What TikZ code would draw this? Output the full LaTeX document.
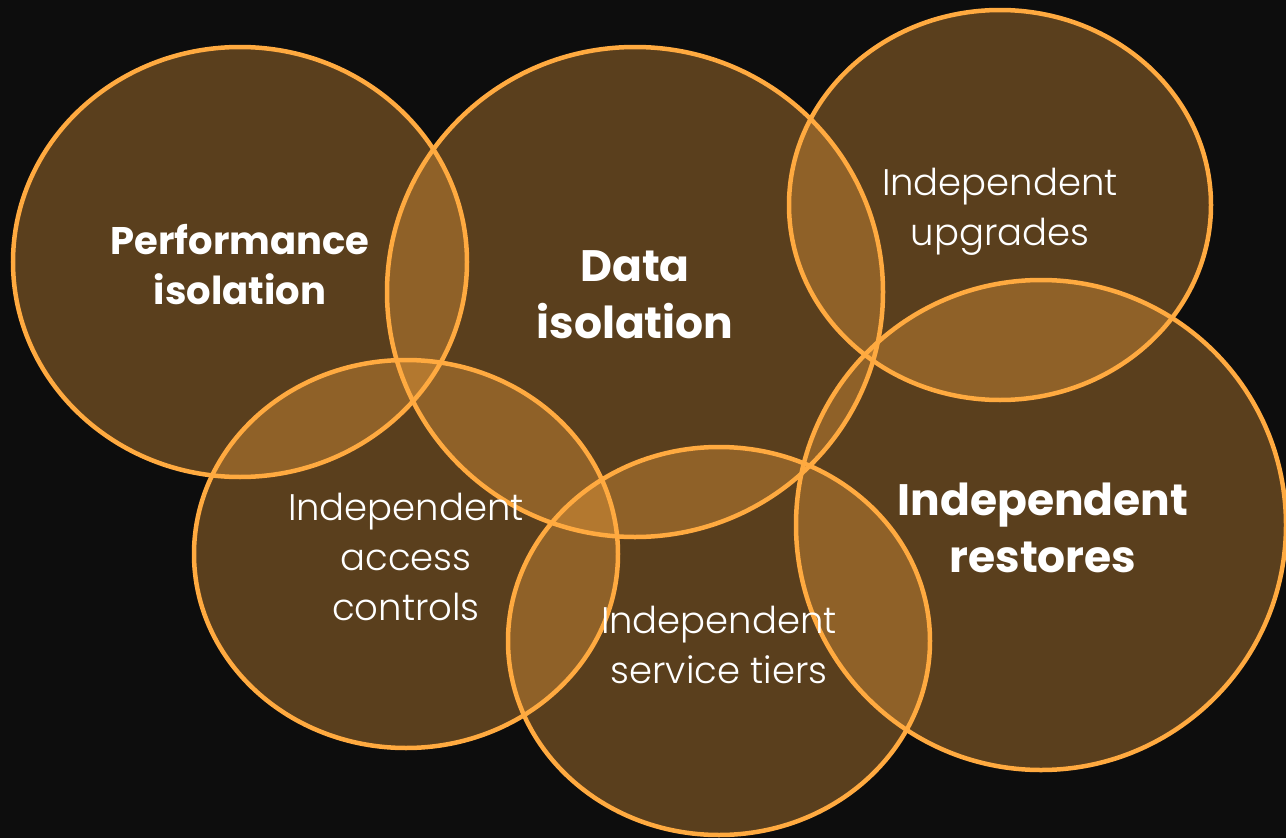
\documentclass[tikz,border=0pt]{standalone}
\usepackage{fontspec}
\setmainfont{Poppins}
\newfontfamily\lightfont{Poppins Light}
\definecolor{bg}{HTML}{0D0D0D}
\definecolor{org}{HTML}{FFAA40}
\tikzset{
  blob/.style={fill=org, fill opacity=0.32},
  rim/.style={draw=org, line width=4.5pt},
  boldlbl/.style={text=white, align=center, font=\bfseries\fontsize{38.5}{50}\selectfont},
  biglbl/.style={text=white, align=center, font=\bfseries\fontsize{44}{57}\selectfont},
  thinlbl/.style={text=white, align=center, font=\lightfont\fontsize{37}{50}\selectfont}
}
\begin{document}
\begin{tikzpicture}[x=1pt,y=-1pt]
\useasboundingbox (0,0) rectangle (1286,838);
\fill[bg] (0,0) rectangle (1286,838);
% fills
\fill[blob] (240,262) ellipse [x radius=227, y radius=215];
\fill[blob] (635,292) ellipse [x radius=248, y radius=245];
\fill[blob] (1000,205) ellipse [x radius=211, y radius=195];
\fill[blob] (1041,525) ellipse [x radius=245, y radius=245];
\fill[blob] (406,554) ellipse [x radius=212, y radius=194];
\fill[blob] (719,641) ellipse [x radius=211, y radius=194];
% rims
\draw[rim] (240,262) ellipse [x radius=227, y radius=215];
\draw[rim] (635,292) ellipse [x radius=248, y radius=245];
\draw[rim] (1000,205) ellipse [x radius=211, y radius=195];
\draw[rim] (1041,525) ellipse [x radius=245, y radius=245];
\draw[rim] (406,554) ellipse [x radius=212, y radius=194];
\draw[rim] (719,641) ellipse [x radius=211, y radius=194];
% labels
\node[boldlbl] (perf) at (240,265) {Performance\\isolation};
\node[biglbl] (data) at (635,295) {Data\\isolation};
\node[thinlbl] (upg) at (1000,212) {Independent\\upgrades};
\node[biglbl] (rest) at (1043,528) {Independent\\restores};
\node[thinlbl] (acc) at (406,557) {Independent\\access\\controls};
\node[thinlbl] (tier) at (719,645) {Independent\\service tiers};
\end{tikzpicture}
\end{document}
